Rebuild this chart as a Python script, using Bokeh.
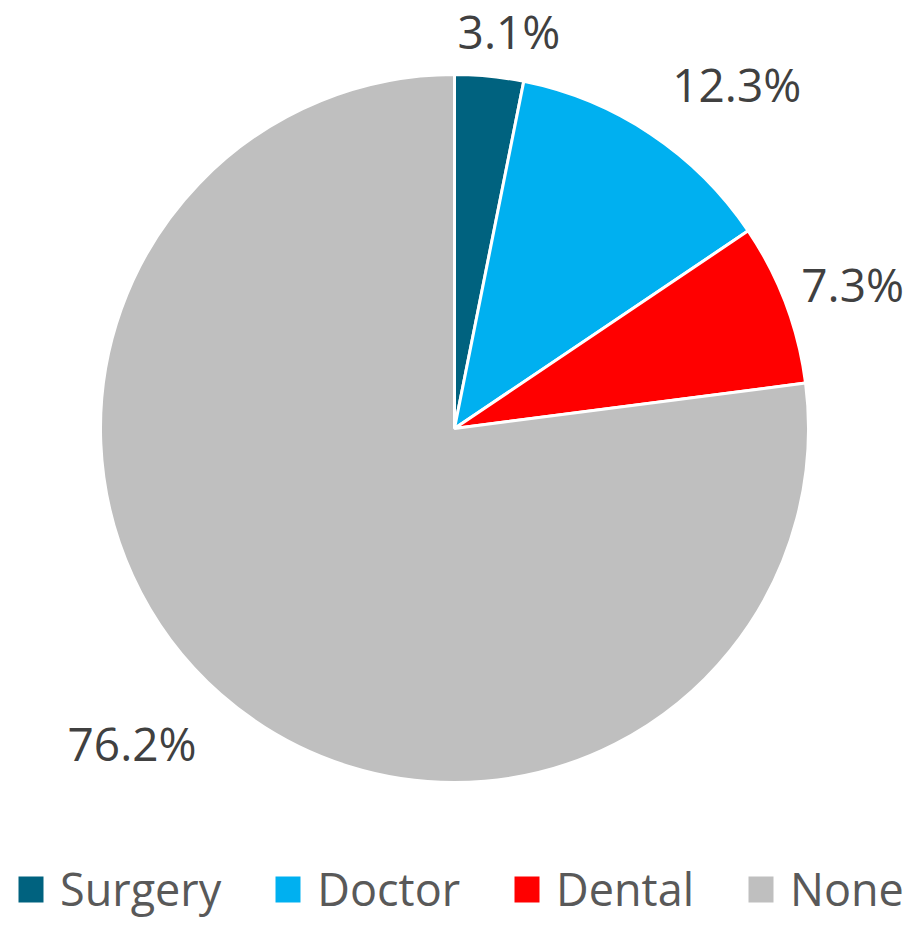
import math
from bokeh.plotting import figure
from bokeh.models import Range1d, Legend, LegendItem, ColumnDataSource
from bokeh.core.properties import value
from bokeh.embed import file_html
from bokeh.resources import INLINE

# ---- data ----
categories = ["Surgery", "Doctor", "Dental", "None"]
values = [3.1, 12.3, 7.3, 76.2]
label_texts = ["3.1%", "12.3%", "7.3%", "76.2%"]
colors = ["#00627F", "#00B0F0", "#FF0000", "#BFBFBF"]

# ---- layout / style ----
W, H = 907, 919
CX, CY, R = 454, 491, 354
label_dist = [399, 444, 423, 452]          # px from pie centre
label_shift_deg = [2.2, 5.8, 0.9, 4.2]     # best-fit nudge from mid-angle
FONT = "Open Sans"

total = float(sum(values))
starts, ends, lx, ly = [], [], [], []
cum = 0.0
for v, d, sh in zip(values, label_dist, label_shift_deg):
    t0 = cum / total * 2 * math.pi
    cum += v
    t1 = cum / total * 2 * math.pi
    starts.append(math.pi / 2 - t1)
    ends.append(math.pi / 2 - t0)
    mid = (t0 + t1) / 2 + math.radians(sh)
    lx.append(CX + d * math.sin(mid))
    ly.append(CY + d * math.cos(mid))

src = ColumnDataSource(dict(cat=categories, val=values, start=starts, end=ends,
                            color=colors, x=[CX] * 4, y=[CY] * 4))
lsrc = ColumnDataSource(dict(x=lx, y=ly, text=label_texts))

p = figure(width=W, height=H, output_backend="svg", toolbar_location=None,
           x_range=Range1d(0, W), y_range=Range1d(0, H), min_border=0,
           outline_line_color=None, background_fill_color="white",
           border_fill_color="white")
p.axis.visible = False
p.grid.visible = False

r = p.wedge(x="x", y="y", radius=R, start_angle="start", end_angle="end",
            direction="anticlock", fill_color="color", line_color="white",
            line_width=3, source=src)

p.text(x="x", y="y", text="text", source=lsrc, text_align="center",
       text_baseline="alphabetic", y_offset=-2, text_font=value(FONT),
       text_font_size="46px", text_color="#404040")

items = [LegendItem(label=c, renderers=[r], index=i) for i, c in enumerate(categories)]
legend = Legend(items=items, orientation="horizontal", location=(13, 0),
                spacing=49, label_standoff=12, glyph_width=35, glyph_height=36,
                label_text_font=FONT, label_text_font_size="45px",
                label_text_color="#595959", border_line_color=None,
                background_fill_alpha=0, padding=0, margin=0)
p.add_layout(legend, "center")

open("out.html", "w").write(file_html(p, INLINE))
